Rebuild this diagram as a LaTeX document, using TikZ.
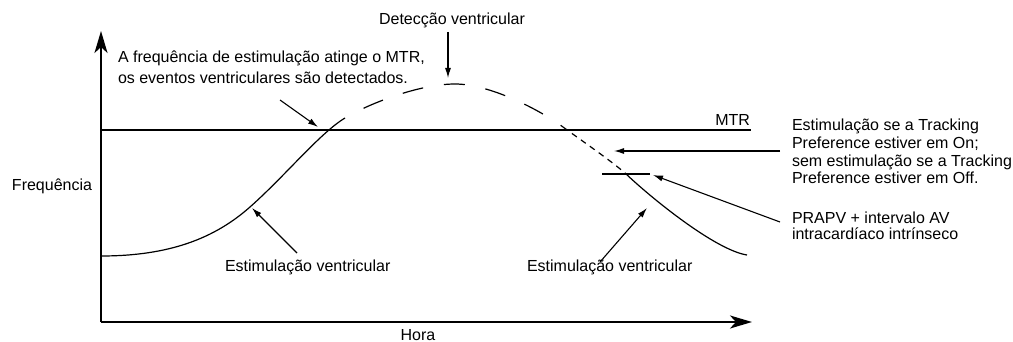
\documentclass[tikz,border=0pt]{standalone}
\usepackage{fontspec}
\setmainfont{Liberation Sans}
\usetikzlibrary{arrows.meta}
\begin{document}
\begin{tikzpicture}[x=1pt,y=-1pt,
  every node/.style={inner sep=0pt, outer sep=0pt, font=\fontsize{16}{18}\selectfont},
  axisline/.style={line width=2.4pt, -{Stealth[length=22pt,width=13pt,inset=6pt]}},
  mtrline/.style={line width=1.8pt},
  curveline/.style={line width=1.2pt},
  pointer/.style={line width=1.1pt, -{Latex[length=10pt,width=6pt]}},
  thinline/.style={line width=1.2pt}
]
\useasboundingbox (0,0) rectangle (1013,342);
% axes
\coordinate (O) at (101,322);
\coordinate (ytip) at (101,31);
\coordinate (xtip) at (752,322);
\draw[axisline] (O) -- (ytip);
\draw[axisline] (O) -- (xtip);
% MTR line
\coordinate (mtrL) at (101,130);
\coordinate (mtrR) at (751,130);
\draw[mtrline] (mtrL) -- (mtrR);
% curve
\coordinate (c0) at (101,256);
\coordinate (c1) at (250,207);
\coordinate (c2) at (345,118);
\coordinate (c3) at (455,84);
\coordinate (c4) at (563,127);
\coordinate (c5) at (625,173);
\coordinate (c6) at (747,255);
\draw[curveline] (c0) .. controls (170,256) and (215,238) .. (c1)
  .. controls (285,176) and (320,133) .. (c2);
\draw[curveline, dash pattern=on 21pt off 21pt, dash phase=21pt] (c2)
  .. controls (370,103) and (420,84) .. (c3)
  .. controls (490,84) and (540,110) .. (c4);
\draw[curveline, dash pattern=on 6pt off 5pt] (c4) .. controls (578,138) and (610,160) .. (c5);
\draw[curveline] (c5) .. controls (650,197) and (715,250) .. (c6);
% short horizontal line
\coordinate (hL) at (602,174);
\coordinate (hR) at (650,174);
\draw[thinline] (hL) -- (hR);
% texts
\node[anchor=base] (det) at (452,25) {Detecção ventricular};
\node[anchor=north west, align=left, font=\fontsize{16}{21.5}\selectfont] (reach) at (118,50.5)
  {A frequência de estimulação atinge o MTR,\\os eventos ventriculares são detectados.};
\node[anchor=base east] (mtr) at (750,125.5) {MTR};
\node[anchor=base west] (freq) at (12,190.7) {Frequência};
\node[anchor=base] (hora) at (418,340.5) {Hora};
\node[anchor=base west] (estL) at (225,272) {Estimulação ventricular};
\node[anchor=base west] (estR) at (527,272) {Estimulação ventricular};
\node[anchor=north west, align=left, font=\fontsize{16}{17.8}\selectfont] (track) at (792,119)
  {Estimulação se a Tracking\\Preference estiver em On;\\sem estimulação se a Tracking\\Preference estiver em Off.};
\node[anchor=north west, align=left, font=\fontsize{16}{16.7}\selectfont] (prapv) at (792,211.6)
  {PRAPV + intervalo AV\\intracardíaco intrínseco};
% pointers
\coordinate (aReachS) at (280,100);
\coordinate (aReachE) at (318,127);
\coordinate (aDetS) at (448,32);
\coordinate (aDetE) at (448,78);
\coordinate (aEstLS) at (297,253);
\coordinate (aEstLE) at (252,208);
\coordinate (aEstRS) at (600,262);
\coordinate (aEstRE) at (647,208);
\coordinate (aTrS) at (780,151);
\coordinate (aTrE) at (614,151);
\coordinate (aPrS) at (780,222);
\coordinate (aPrE) at (653,175);
\draw[pointer] (aReachS) -- (aReachE);
\draw[pointer] (aDetS) -- (aDetE);
\draw[pointer] (aEstLS) -- (aEstLE);
\draw[pointer] (aEstRS) -- (aEstRE);
\draw[pointer] (aTrS) -- (aTrE);
\draw[pointer] (aPrS) -- (aPrE);
\end{tikzpicture}
\end{document}
